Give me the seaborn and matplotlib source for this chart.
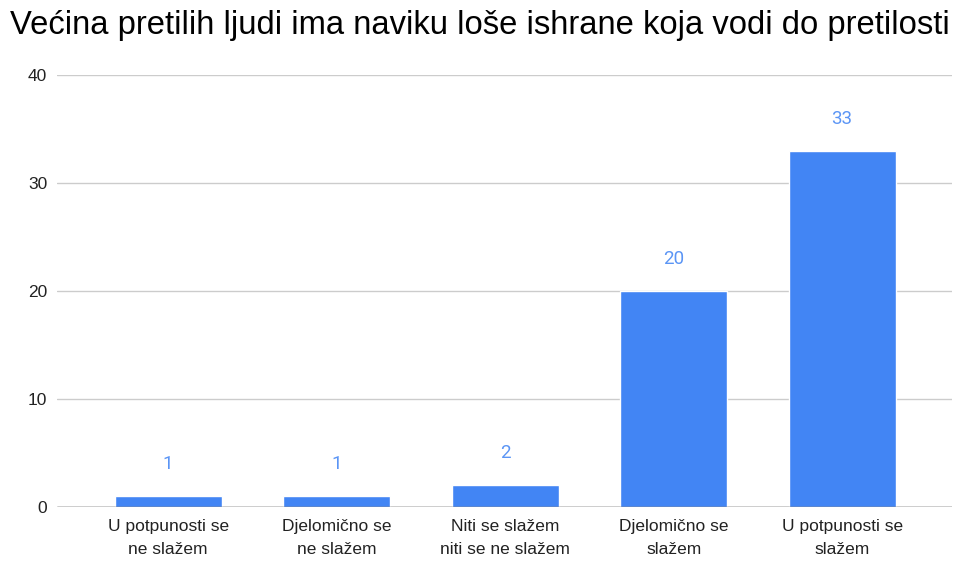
import matplotlib
matplotlib.use("Agg")
import matplotlib.pyplot as plt
import seaborn as sns
import pandas as pd

categories = [
    "U potpunosti se\nne slažem",
    "Djelomično se\nne slažem",
    "Niti se slažem\nniti se ne slažem",
    "Djelomično se\nslažem",
    "U potpunosti se\nslažem",
]
counts = [1, 1, 2, 20, 33]
y_ticks = [0, 10, 20, 30, 40]
title = "Većina pretilih ljudi ima naviku loše ishrane koja vodi do pretilosti"

BAR_COLOR = "#4285F4"
LABEL_COLOR = "#5B95F5"


def main():
    df = pd.DataFrame({"kategorija": categories, "broj": counts})

    sns.set_style("white")
    plt.rcParams["font.family"] = ["Liberation Sans", "DejaVu Sans"]

    fig = plt.figure(figsize=(9.59, 5.63), dpi=100)
    ax = fig.add_axes([0.0594, 0.0995, 0.9336, 0.7673])

    sns.barplot(data=df, x="kategorija", y="broj", color=BAR_COLOR,
                width=0.635, saturation=1, ax=ax, zorder=3)

    for i, v in enumerate(counts):
        ax.annotate(str(v), (i, v), xytext=(0, 23), textcoords="offset points",
                    ha="center", va="center", fontsize=13.5, color=LABEL_COLOR,
                    family=["Roboto", "DejaVu Sans"])

    ax.set_xlim(-0.66, 4.654)
    ax.set_ylim(0, 40)
    ax.set_yticks(y_ticks)
    ax.yaxis.grid(True, color="#cccccc", linewidth=1, zorder=0)
    ax.axhline(0, color="#333333", linewidth=1, zorder=4)
    for s in ax.spines.values():
        s.set_visible(False)

    ax.tick_params(axis="both", length=0, labelsize=12.5, colors="#222222")
    ax.tick_params(axis="x", pad=9)
    ax.tick_params(axis="y", pad=7)
    for lbl in ax.get_xticklabels():
        lbl.set_linespacing(1.6)
    ax.set_xlabel("")
    ax.set_ylabel("")

    fig.text(0.0104, 0.954, title, fontsize=23.6, ha="left", va="center",
             color="#000000")

    fig.savefig("out.png", dpi=100)


if __name__ == "__main__":
    main()
